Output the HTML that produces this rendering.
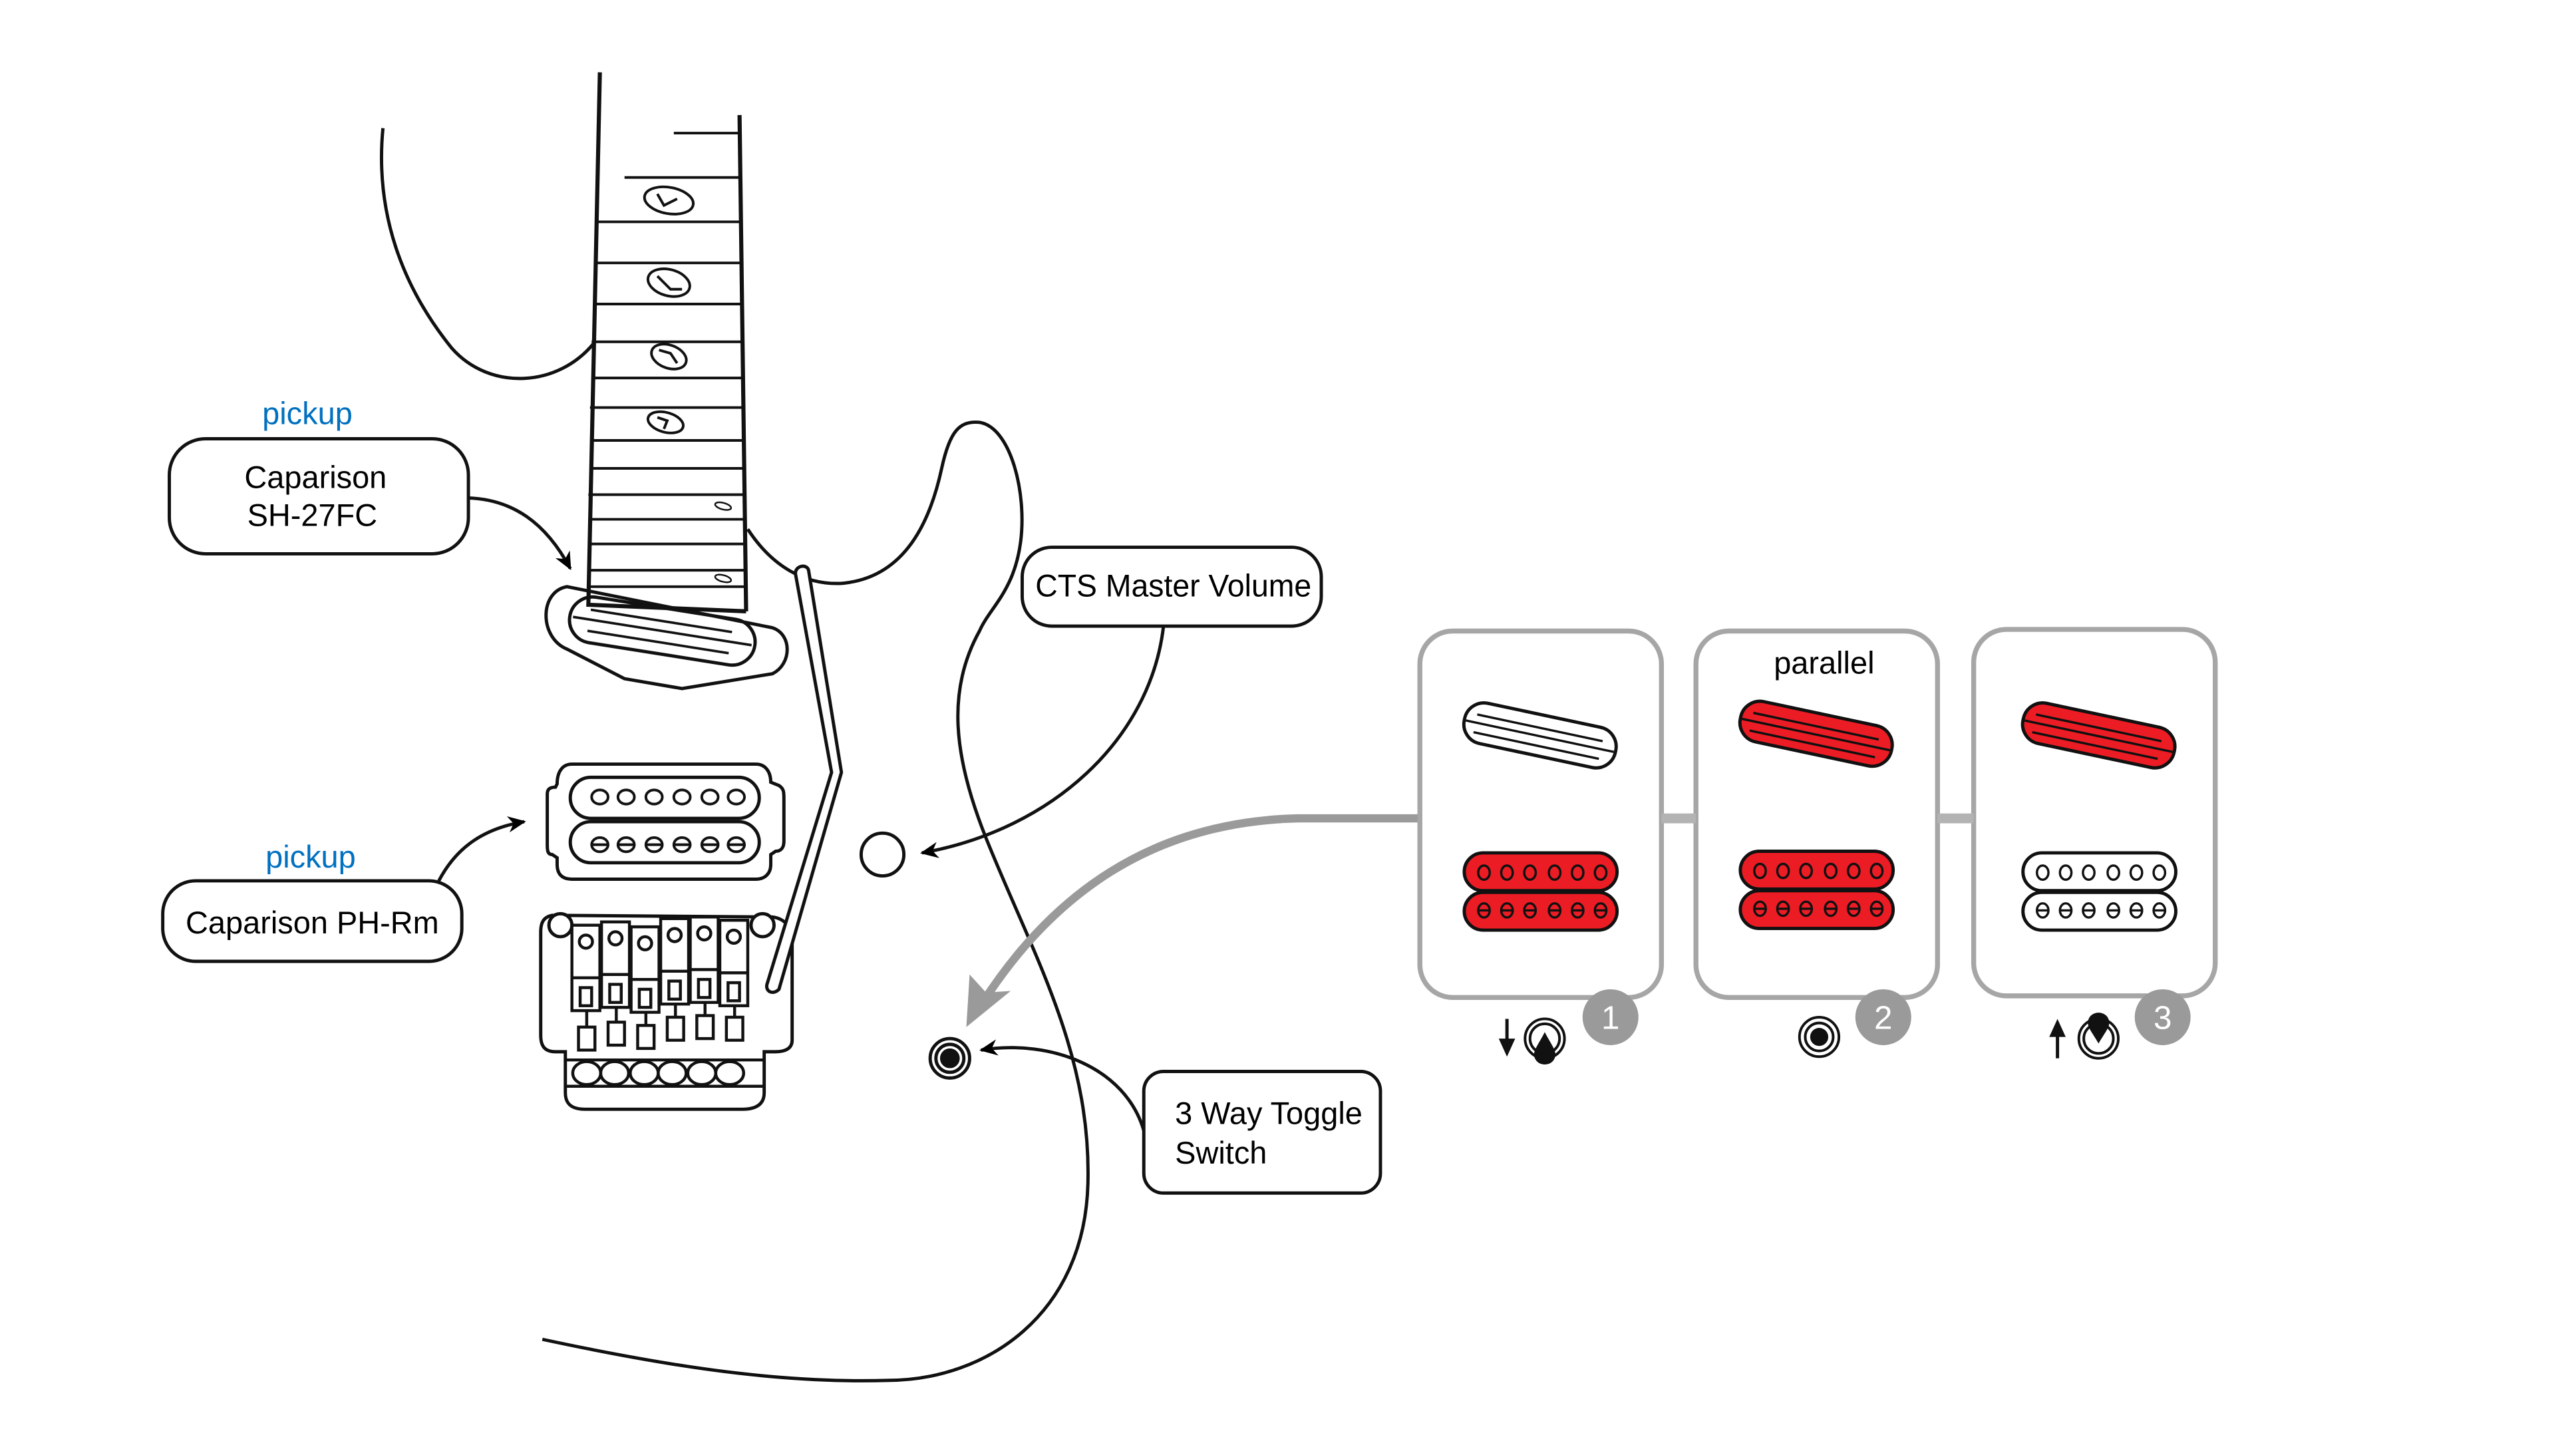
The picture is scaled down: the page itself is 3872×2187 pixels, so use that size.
<!DOCTYPE html>
<html><head><meta charset="utf-8"><style>
html,body{margin:0;padding:0;background:#fff;}
svg{display:block;}
text{font-family:"Liberation Sans",sans-serif;}
</style></head><body>
<svg width="3872" height="2187" viewBox="0 0 1567.5 885.4" xmlns="http://www.w3.org/2000/svg">
<defs>
<marker id="ah" viewBox="0 0 10 10" refX="9" refY="5" markerWidth="13" markerHeight="11" orient="auto" markerUnits="userSpaceOnUse"><path d="M0,0.5 L10,5 L0,9.5 L3,5 Z" fill="#000"/></marker>
</defs>
<g fill="none" stroke="#111" stroke-width="2">
<path d="M233,78 C228,130 245,175 275,212 C298,238 340,236 362,208"/>
<path d="M455,322 C470,345 490,356 512,355 C548,352 565,322 573,285 C578,262 584,256 596,257 C615,260 625,300 621,330 C617,360 602,370 596,384 C576,420 580,460 600,510 C628,580 664,640 662,720 C660,800 600,840 540,840 C470,842 400,830 330,815"/>
<path d="M365,44 L358,368 L454,372" stroke-width="2.5"/>
<path d="M450,70 L454,372" stroke-width="2.5"/>
<g stroke-width="1.6">
<line x1="410" y1="81" x2="450" y2="81"/>
<line x1="380" y1="108" x2="450" y2="108"/>
<line x1="363" y1="135" x2="451" y2="135"/>
<line x1="362" y1="160" x2="451" y2="160"/>
<line x1="361" y1="185" x2="451" y2="185"/>
<line x1="360" y1="208" x2="452" y2="208"/>
<line x1="360" y1="230" x2="452" y2="230"/>
<line x1="359" y1="248" x2="452" y2="248"/>
<line x1="359" y1="268" x2="453" y2="268"/>
<line x1="359" y1="285" x2="453" y2="285"/>
<line x1="358" y1="301" x2="453" y2="301"/>
<line x1="358" y1="316" x2="453" y2="316"/>
<line x1="358" y1="331" x2="453" y2="331"/>
<line x1="358" y1="347" x2="454" y2="347"/>
<line x1="358" y1="357" x2="454" y2="357"/>
<ellipse cx="407" cy="122" rx="15" ry="8" transform="rotate(10 407 122)"/>
<path d="M400,118 L404,125 L412,121"/>
<ellipse cx="407" cy="172" rx="13" ry="8" transform="rotate(15 407 172)"/>
<path d="M400,168 L408,176 L415,176"/>
<ellipse cx="407" cy="217" rx="11" ry="7" transform="rotate(20 407 217)"/>
<path d="M401,213 L408,215 L412,221"/>
<ellipse cx="405" cy="257" rx="11" ry="6" transform="rotate(15 405 257)"/>
<path d="M400,254 L406,256 L404,261"/>
<ellipse cx="440" cy="308" rx="5" ry="2" transform="rotate(15 440 308)" stroke-width="1"/>
<ellipse cx="440" cy="352" rx="5" ry="2" transform="rotate(15 440 352)" stroke-width="1"/>
</g>
<path d="M345,357 L470,382 C482,386 482,404 470,410 L415,419 L380,413 L345,395 C328,388 328,360 345,357 Z"/>
<g transform="rotate(9 403 384)">
<rect x="346" y="370" width="114" height="28" rx="14"/>
<line x1="358" y1="378" x2="445" y2="378" stroke-width="1.5"/>
<line x1="348" y1="384" x2="458" y2="384" stroke-width="1.5"/>
<line x1="358" y1="391" x2="445" y2="391" stroke-width="1.5"/>
</g>
<path d="M348,465 L460,465 C466,465 469,470 469,476 L474,478 C477,480 477,482 477,486 L477,512 C477,516 475,518 472,518 L469,520 L469,526 C469,532 465,535 460,535 L348,535 C342,535 339,532 339,526 L339,522 L336,520 C333,520 333,517 333,514 L333,483 C333,480 335,479 338,479 L339,477 C339,470 342,465 348,465 Z"/>
<rect x="347" y="473" width="115" height="25" rx="12.5"/>
<rect x="347" y="500" width="115" height="25" rx="12.5"/>
<g stroke-width="1.6">
<ellipse cx="365" cy="485" rx="5" ry="4.3"/><ellipse cx="381" cy="485" rx="5" ry="4.3"/><ellipse cx="398" cy="485" rx="5" ry="4.3"/><ellipse cx="415" cy="485" rx="5" ry="4.3"/><ellipse cx="432" cy="485" rx="5" ry="4.3"/><ellipse cx="448" cy="485" rx="5" ry="4.3"/>
<ellipse cx="365" cy="514" rx="5" ry="4.3"/><ellipse cx="381" cy="514" rx="5" ry="4.3"/><ellipse cx="398" cy="514" rx="5" ry="4.3"/><ellipse cx="415" cy="514" rx="5" ry="4.3"/><ellipse cx="432" cy="514" rx="5" ry="4.3"/><ellipse cx="448" cy="514" rx="5" ry="4.3"/>
<line x1="360" y1="514" x2="370" y2="514"/><line x1="376" y1="514" x2="386" y2="514"/><line x1="393" y1="514" x2="403" y2="514"/><line x1="410" y1="514" x2="420" y2="514"/><line x1="427" y1="514" x2="437" y2="514"/><line x1="443" y1="514" x2="453" y2="514"/>
</g>
<path d="M336,557 L470,558 C478,559 482,565 482,572 L482,633 C482,638 478,640 472,640 L465,640 L465,665 C465,672 460,675 452,675 L356,675 C348,675 344,672 344,665 L344,640 L338,640 C331,640 329,636 329,630 L329,567 C329,561 331,558 336,557 Z"/>
<circle cx="341" cy="563" r="7" fill="#fff"/>
<circle cx="464" cy="563" r="7" fill="#fff"/>
<g stroke-width="1.8">
<rect x="348" y="563" width="17" height="52" fill="#fff"/><rect x="366" y="561" width="17" height="52" fill="#fff"/><rect x="384" y="564" width="17" height="52" fill="#fff"/><rect x="402" y="559" width="17" height="52" fill="#fff"/><rect x="420" y="558" width="17" height="52" fill="#fff"/><rect x="438" y="560" width="17" height="52" fill="#fff"/>
<circle cx="356.5" cy="573" r="4"/><circle cx="374.5" cy="571" r="4"/><circle cx="392.5" cy="574" r="4"/><circle cx="410.5" cy="569" r="4"/><circle cx="428.5" cy="568" r="4"/><circle cx="446.5" cy="570" r="4"/>
<line x1="348" y1="595" x2="365" y2="595"/><line x1="366" y1="593" x2="383" y2="593"/><line x1="384" y1="596" x2="401" y2="596"/><line x1="402" y1="591" x2="419" y2="591"/><line x1="420" y1="590" x2="437" y2="590"/><line x1="438" y1="592" x2="455" y2="592"/>
<rect x="353" y="601" width="7" height="11"/><rect x="371" y="599" width="7" height="11"/><rect x="389" y="602" width="7" height="11"/><rect x="407" y="597" width="7" height="11"/><rect x="425" y="596" width="7" height="11"/><rect x="443" y="598" width="7" height="11"/>
<rect x="352" y="625" width="10" height="14"/><rect x="370" y="622" width="10" height="14"/><rect x="388" y="624" width="10" height="14"/><rect x="406" y="619" width="10" height="14"/><rect x="424" y="618" width="10" height="14"/><rect x="442" y="619" width="10" height="14"/>
<line x1="357" y1="615" x2="357" y2="625"/><line x1="375" y1="613" x2="375" y2="622"/><line x1="393" y1="616" x2="393" y2="624"/><line x1="411" y1="611" x2="411" y2="619"/><line x1="429" y1="610" x2="429" y2="618"/><line x1="447" y1="612" x2="447" y2="619"/>
<line x1="344" y1="645" x2="465" y2="645"/><line x1="344" y1="661" x2="465" y2="661"/>
<ellipse cx="357" cy="653" rx="8.5" ry="7"/><ellipse cx="374" cy="653" rx="8.5" ry="7"/><ellipse cx="392" cy="653" rx="8.5" ry="7"/><ellipse cx="409" cy="653" rx="8.5" ry="7"/><ellipse cx="427" cy="653" rx="8.5" ry="7"/><ellipse cx="444" cy="653" rx="8.5" ry="7"/>
</g>
<path d="M484,349 L506,470 L467,598 C465,603 470,606 474,602 L512,470 L492,347 C491,343 484,344 484,349 Z" fill="#fff"/>
<circle cx="537" cy="520" r="13"/>
<circle cx="578" cy="644" r="12"/><circle cx="578" cy="644" r="8.5"/><circle cx="578" cy="644" r="5" fill="#111"/>
<rect x="103" y="267" width="182" height="70" rx="22"/>
<rect x="99" y="536" width="182" height="49" rx="20"/>
<rect x="622" y="333" width="182" height="48" rx="18"/>
<rect x="696" y="652" width="144" height="74" rx="12"/>
<path d="M285,303 C312,304 332,318 347,346" marker-end="url(#ah)"/>
<path d="M267,536 C278,515 295,504 319,500" marker-end="url(#ah)"/>
<path d="M708,381 C700,450 640,505 561,519" marker-end="url(#ah)"/>
<path d="M696,688 C685,650 640,632 597,639" marker-end="url(#ah)"/>
</g>
<path d="M863,498 L790,498 C700,500 640,545 598,610" fill="none" stroke="#9a9a9a" stroke-width="5"/>
<path d="M588,625 L590,593 L600,604 L615,603 Z" fill="#9a9a9a"/>
<g font-size="19" fill="#000" text-anchor="middle">
<text x="187" y="258" fill="#0070c0">pickup</text>
<text x="189" y="528" fill="#0070c0">pickup</text>
<text x="192" y="297">Caparison</text>
<text x="190" y="320">SH-27FC</text>
<text x="190" y="568">Caparison PH-Rm</text>
<text x="714" y="363" textLength="168" lengthAdjust="spacingAndGlyphs">CTS Master Volume</text>
<text x="715" y="684" text-anchor="start">3 Way Toggle</text>
<text x="715" y="708" text-anchor="start">Switch</text>
<text x="1110" y="410">parallel</text>
</g>
<g fill="none" stroke="#a6a6a6" stroke-width="3">
<rect x="864" y="384" width="147" height="223" rx="20"/>
<rect x="1032" y="384" width="147" height="223" rx="20"/>
<rect x="1201" y="383" width="147" height="223" rx="20"/>
</g>
<rect x="1011" y="495" width="21" height="6" fill="#b3b3b3"/>
<rect x="1179" y="495" width="22" height="6" fill="#b3b3b3"/>
<g stroke="#111" stroke-width="2">
<g transform="rotate(12 937 448)"><rect x="890" y="435" width="94" height="25" rx="12" fill="#fff"/><line x1="897" y1="443" x2="975" y2="443" stroke-width="1.4"/><line x1="891" y1="448" x2="983" y2="448" stroke-width="1.4"/><line x1="897" y1="454" x2="975" y2="454" stroke-width="1.4"/></g>
<g transform="rotate(12 1105 447)"><rect x="1058" y="434" width="94" height="25" rx="12" fill="#ec1c24"/><line x1="1065" y1="442" x2="1143" y2="442" stroke-width="1.4"/><line x1="1059" y1="447" x2="1151" y2="447" stroke-width="1.4"/><line x1="1065" y1="453" x2="1143" y2="453" stroke-width="1.4"/></g>
<g transform="rotate(12 1277 448)"><rect x="1230" y="435" width="94" height="25" rx="12" fill="#ec1c24"/><line x1="1237" y1="443" x2="1315" y2="443" stroke-width="1.4"/><line x1="1231" y1="448" x2="1323" y2="448" stroke-width="1.4"/><line x1="1237" y1="454" x2="1315" y2="454" stroke-width="1.4"/></g>
<rect x="891" y="519" width="93" height="23" rx="11.5" fill="#ec1c24"/><rect x="891" y="543" width="93" height="23" rx="11.5" fill="#ec1c24"/>
<rect x="1059" y="518" width="93" height="23" rx="11.5" fill="#ec1c24"/><rect x="1059" y="542" width="93" height="23" rx="11.5" fill="#ec1c24"/>
<rect x="1231" y="519" width="93" height="23" rx="11.5" fill="#fff"/><rect x="1231" y="543" width="93" height="23" rx="11.5" fill="#fff"/>
</g>
<g fill="none" stroke="#111" stroke-width="1.4">
<g id="poles"><ellipse cx="903" cy="531" rx="3.5" ry="4.3"/><ellipse cx="917" cy="531" rx="3.5" ry="4.3"/><ellipse cx="931" cy="531" rx="3.5" ry="4.3"/><ellipse cx="946" cy="531" rx="3.5" ry="4.3"/><ellipse cx="960" cy="531" rx="3.5" ry="4.3"/><ellipse cx="974" cy="531" rx="3.5" ry="4.3"/>
<ellipse cx="903" cy="554" rx="3.5" ry="4.3"/><ellipse cx="917" cy="554" rx="3.5" ry="4.3"/><ellipse cx="931" cy="554" rx="3.5" ry="4.3"/><ellipse cx="946" cy="554" rx="3.5" ry="4.3"/><ellipse cx="960" cy="554" rx="3.5" ry="4.3"/><ellipse cx="974" cy="554" rx="3.5" ry="4.3"/>
<path d="M899.5,554h7M913.5,554h7M927.5,554h7M942.5,554h7M956.5,554h7M970.5,554h7"/></g>
<use href="#poles" x="168" y="-1"/>
<use href="#poles" x="340" y="0"/>
</g>
<g stroke="#111" fill="none" stroke-width="1.6">
<circle cx="940" cy="632" r="12"/><circle cx="940" cy="632" r="9"/>
<circle cx="1107" cy="631" r="12"/><circle cx="1107" cy="631" r="8.5"/>
<circle cx="1277" cy="632" r="12"/><circle cx="1277" cy="632" r="9"/>
<line x1="917" y1="620" x2="917" y2="636" stroke-width="2"/>
<line x1="1252" y1="628" x2="1252" y2="644" stroke-width="2"/>
</g>
<path d="M912,632 L917,643 L922,632 Z" fill="#111"/>
<path d="M1247,631 L1252,620 L1257,631 Z" fill="#111"/>
<path d="M940,628 C936,636 932,640 934,644 C936,649 944,649 946,644 C948,640 944,636 940,628 Z" fill="#111"/>
<circle cx="1107" cy="631" r="5.5" fill="#111"/>
<path d="M1277,635 C1273,628 1269,624 1271,620 C1273,615 1281,615 1283,620 C1285,624 1281,628 1277,635 Z" fill="#111"/>
<circle cx="980" cy="619" r="17" fill="#9a9a9a"/>
<circle cx="1146" cy="619" r="17" fill="#9a9a9a"/>
<circle cx="1316" cy="619" r="17" fill="#9a9a9a"/>
<g fill="#fff" font-size="20" text-anchor="middle">
<text x="980" y="626">1</text><text x="1146" y="626">2</text><text x="1316" y="626">3</text>
</g>
</svg>
</body></html>
